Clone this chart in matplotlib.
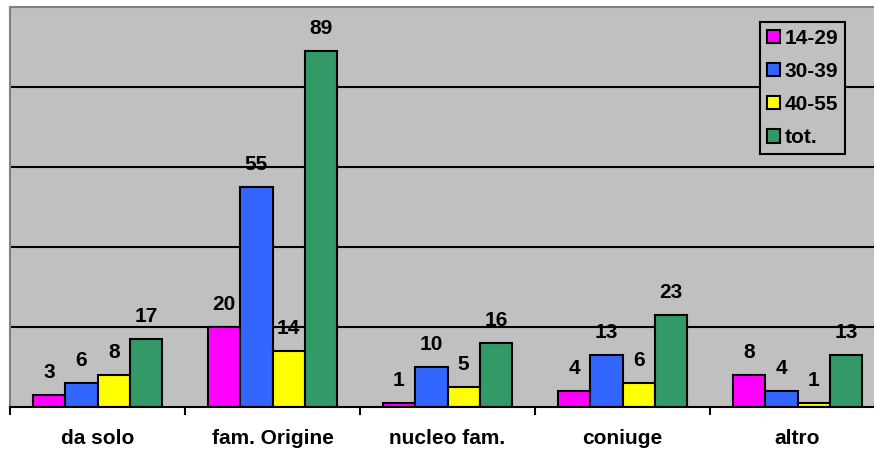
import matplotlib
matplotlib.use("Agg")
import matplotlib.pyplot as plt
from matplotlib.patches import Patch
import numpy as np

categories = ["da solo", "fam. Origine", "nucleo fam.", "coniuge", "altro"]
series_names = ["14-29", "30-39", "40-55", "tot."]
v_14_29 = [3, 20, 1, 4, 8]
v_30_39 = [6, 55, 10, 13, 4]
v_40_55 = [8, 14, 5, 6, 1]
v_tot = [17, 89, 16, 23, 13]
colors = ["#FF00FF", "#3366FF", "#FFFF00", "#339966"]

plt.rcParams["font.family"] = ["Liberation Sans", "DejaVu Sans"]
plt.rcParams["font.weight"] = "bold"

fig = plt.figure(figsize=(8.74, 4.53), dpi=100)
W, H = 874, 453
# plot area runs past the right edge of the picture
ax = fig.add_axes([10 / W, 1 - 407 / H, 875 / W, 400 / H])
ax.set_facecolor("#C0C0C0")
ax.set_axisbelow(True)

x = np.arange(len(categories))
w = 0.185
all_vals = [v_14_29, v_30_39, v_40_55, v_tot]
for j, vals in enumerate(all_vals):
    xs = x + (j - 1.5) * w
    ax.bar(xs, vals, width=w, color=colors[j], edgecolor="black", linewidth=1.5, zorder=2)
    for xi, v in zip(xs, vals):
        ax.annotate(str(v), (xi, v), xytext=(0, 12), textcoords="offset points",
                    ha="center", va="baseline", fontsize=15, fontweight="bold", zorder=3)

ax.set_xlim(-0.5, len(categories) - 0.5)
ax.set_ylim(0, 100)
ax.set_yticks([20, 40, 60, 80])
ax.yaxis.grid(True, color="black", linewidth=1.5)
ax.tick_params(axis="y", length=0, labelleft=False)

ax.set_xticks(np.arange(len(categories) + 1) - 0.5)
ax.set_xticklabels([])
ax.tick_params(axis="x", which="major", length=6, width=1.5, color="black")
ax.set_xticks(x, minor=True)
ax.set_xticklabels(categories, minor=True, fontsize=15, fontweight="bold")
ax.tick_params(axis="x", which="minor", length=0, pad=16)

for s in ["left", "top", "right"]:
    ax.spines[s].set_color("#808080")
    ax.spines[s].set_linewidth(1.5)
ax.spines["bottom"].set_color("black")
ax.spines["bottom"].set_linewidth(1.5)

handles = [Patch(facecolor=c, edgecolor="black", linewidth=1.5) for c in colors]
leg = fig.legend(handles, series_names, loc="upper left",
                 bbox_to_anchor=(760 / W, 1 - 22 / H), bbox_transform=fig.transFigure,
                 borderaxespad=0, prop={"weight": "bold", "size": 15},
                 handlelength=0.62, handleheight=0.62, handletextpad=0.25,
                 labelspacing=0.68, borderpad=0.32, fancybox=False, framealpha=1)
leg.get_frame().set_facecolor("#C0C0C0")
leg.get_frame().set_edgecolor("black")
leg.get_frame().set_linewidth(1.5)

fig.savefig("out.png", dpi=100)
